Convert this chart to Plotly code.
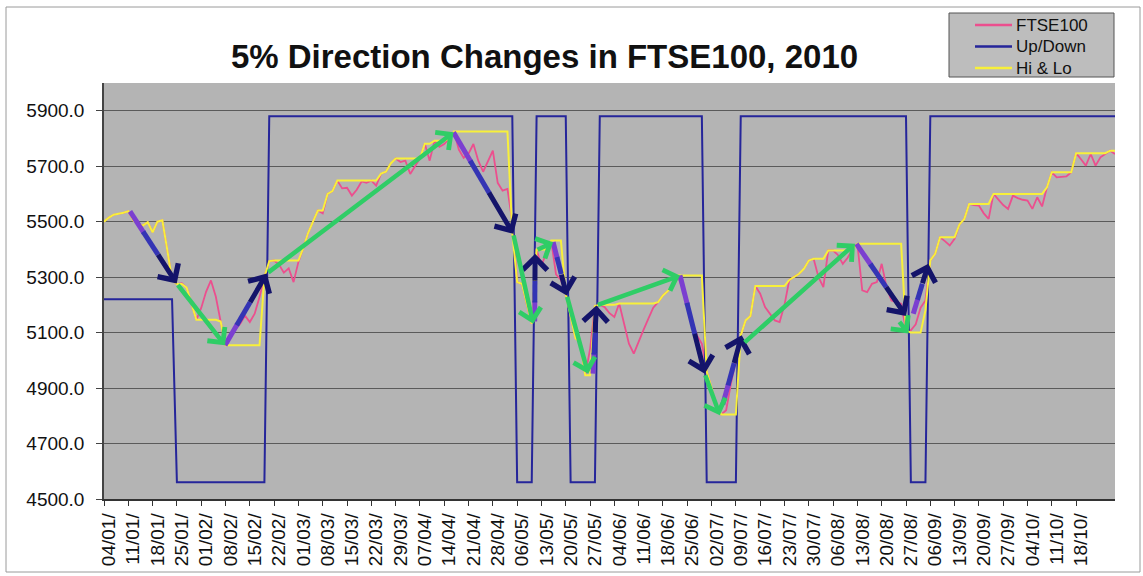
import plotly.graph_objects as go

# ---------------- data ----------------
tick_labels = ["04/01/", "11/01/", "18/01/", "25/01/", "01/02/", "08/02/", "15/02/", "22/02/",
               "01/03/", "08/03/", "15/03/", "22/03/", "29/03/", "07/04/", "14/04/", "21/04/",
               "28/04/", "06/05/", "13/05/", "20/05/", "27/05/", "04/06/", "11/06/", "18/06/",
               "25/06/", "02/07/", "09/07/", "16/07/", "23/07/", "30/07/", "06/08/", "13/08/",
               "20/08/", "27/08/", "06/09/", "13/09/", "20/09/", "27/09/", "04/10/", "11/10/",
               "18/10/"]

ftse100 = [
    5500, 5515, 5525, 5528, 5532, 5538, 5505, 5492, 5486, 5498, 5462, 5500, 5505, 5400, 5290,
    5275, 5278, 5262, 5200, 5146, 5189, 5247, 5288, 5230, 5140, 5054, 5092, 5112, 5131, 5161,
    5138, 5168, 5228, 5300, 5358,
    5360, 5345, 5316, 5332, 5282, 5355, 5405, 5460, 5500, 5540, 5530, 5600, 5610, 5648, 5620,
    5622, 5594, 5615, 5645, 5640, 5648, 5630, 5673, 5680, 5710, 5728, 5715, 5720, 5672, 5700,
    5728, 5781, 5720, 5792, 5770, 5780, 5799, 5825,
    5760, 5730, 5745, 5780, 5720, 5680, 5720, 5756, 5640, 5612, 5618, 5500,
    5282, 5276, 5200, 5132, 5400, 5340, 5390, 5432, 5310, 5290, 5240, 5158, 5080, 5063, 4946,
    5040, 5196,
    5200, 5192, 5170, 5156, 5205, 5130, 5060, 5024, 5070, 5110, 5150, 5190, 5210, 5234, 5250,
    5270, 5306, 5260, 5200, 5140, 5090, 5060,
    4960, 4900, 4830, 4805, 4820, 4918, 5000, 5090, 5144, 5160,
    5268, 5240, 5192, 5170, 5144, 5138, 5200, 5290, 5300, 5312, 5330, 5360, 5366, 5300, 5264,
    5396, 5396, 5380, 5348, 5370, 5400, 5420, 5252, 5246, 5276, 5282, 5348, 5264, 5216, 5210,
    5204, 5110,
    5108, 5130, 5190, 5216, 5360, 5384, 5444, 5430, 5414, 5438, 5490, 5510, 5564, 5560, 5558,
    5530, 5510, 5600, 5580, 5560, 5546, 5594, 5585, 5579, 5576, 5546, 5588, 5555, 5624, 5678,
    5660, 5662, 5663, 5678, 5747, 5725, 5702, 5744, 5702, 5732, 5745, 5756, 5744,
]

up_down = [
    5220, 5220, 5220, 5220, 5220, 5220, 5220, 5220, 5220, 5220, 5220, 5220, 5220, 5220, 5220,
    4560, 4560, 4560, 4560, 4560, 4560, 4560, 4560, 4560, 4560, 4560, 4560, 4560, 4560, 4560,
    4560, 4560, 4560, 4560,
    5880, 5880, 5880, 5880, 5880, 5880, 5880, 5880, 5880, 5880, 5880, 5880, 5880, 5880, 5880,
    5880, 5880, 5880, 5880, 5880, 5880, 5880, 5880, 5880, 5880, 5880, 5880, 5880, 5880, 5880,
    5880, 5880, 5880, 5880, 5880, 5880, 5880, 5880, 5880, 5880, 5880, 5880, 5880, 5880, 5880,
    5880, 5880, 5880, 5880, 5880, 5880,
    4560, 4560, 4560, 4560,
    5880, 5880, 5880, 5880, 5880, 5880, 5880,
    4560, 4560, 4560, 4560, 4560, 4560,
    5880, 5880, 5880, 5880, 5880, 5880, 5880, 5880, 5880, 5880, 5880, 5880, 5880, 5880, 5880,
    5880, 5880, 5880, 5880, 5880, 5880, 5880,
    4560, 4560, 4560, 4560, 4560, 4560, 4560,
    5880, 5880, 5880, 5880, 5880, 5880, 5880, 5880, 5880, 5880, 5880, 5880, 5880, 5880, 5880,
    5880, 5880, 5880, 5880, 5880, 5880, 5880, 5880, 5880, 5880, 5880, 5880, 5880, 5880, 5880,
    5880, 5880, 5880, 5880, 5880,
    4560, 4560, 4560, 4560,
    5880, 5880, 5880, 5880, 5880, 5880, 5880, 5880, 5880, 5880, 5880, 5880, 5880, 5880, 5880,
    5880, 5880, 5880, 5880, 5880, 5880, 5880, 5880, 5880, 5880, 5880, 5880, 5880, 5880, 5880,
    5880, 5880, 5880, 5880, 5880, 5880, 5880, 5880, 5880,
]

hi_lo = [
    5500, 5515, 5525, 5528, 5532, 5538, 5505, 5492, 5486, 5498, 5462, 5500, 5505, 5400, 5290,
    5275, 5275, 5262, 5200, 5146, 5146, 5146, 5146, 5146, 5140, 5054, 5054, 5054, 5054, 5054,
    5054, 5054, 5054, 5300, 5358,
    5360, 5360, 5360, 5360, 5360, 5360, 5405, 5460, 5500, 5540, 5540, 5600, 5610, 5648, 5648,
    5648, 5648, 5648, 5648, 5648, 5648, 5648, 5673, 5680, 5710, 5728, 5728, 5728, 5728, 5728,
    5728, 5781, 5781, 5792, 5792, 5792, 5799, 5825,
    5825, 5825, 5825, 5825, 5825, 5825, 5825, 5825, 5825, 5825, 5825, 5460,
    5282, 5276, 5200, 5132, 5400, 5400, 5400, 5432, 5432, 5432, 5240, 5158, 5080, 5063, 4946,
    4946, 5196,
    5200, 5200, 5200, 5200, 5205, 5205, 5205, 5205, 5205, 5205, 5205, 5205, 5210, 5234, 5250,
    5270, 5306, 5306, 5306, 5306, 5306, 5306,
    4960, 4900, 4830, 4805, 4805, 4805, 4805, 5090, 5144, 5160,
    5268, 5268, 5268, 5268, 5268, 5268, 5268, 5290, 5300, 5312, 5330, 5360, 5366, 5366, 5366,
    5396, 5396, 5396, 5396, 5396, 5400, 5420, 5420, 5420, 5420, 5420, 5420, 5420, 5420, 5420,
    5420, 5108,
    5100, 5100, 5100, 5180, 5360, 5384, 5444, 5444, 5444, 5444, 5490, 5510, 5564, 5564, 5564,
    5564, 5564, 5600, 5600, 5600, 5600, 5600, 5600, 5600, 5600, 5600, 5600, 5600, 5624, 5678,
    5678, 5678, 5678, 5678, 5747, 5747, 5747, 5747, 5747, 5747, 5747, 5756, 5756,
]

series_names = ["FTSE100", "Up/Down", "Hi & Lo"]
series_colors = ["#ec4f8e", "#25259a", "#f8f03a"]

y_ticks = [4500, 4700, 4900, 5100, 5300, 5500, 5700, 5900]

# hand-drawn arrows (day index, index level)
navy_from_x = [5.35, 24.9, 71.9, 88.6, 92.4, 100.6, 118.5, 127.3, 154.8, 166.5]
navy_from_y = [5537, 5054, 5822, 5140, 5426, 4952, 5306, 4840, 5420, 5168]
navy_to_x = [14.96, 33.5, 84.2, 88.7, 95.2, 101.3, 123.6, 131.2, 165.0, 169.6]
navy_to_y = [5277, 5313, 5456, 5384, 5234, 5198, 4952, 5090, 5160, 5348]

green_from_x = [14.96, 33.5, 84.2, 88.9, 95.2, 101.3, 123.6, 131.5, 163.4]
green_from_y = [5277, 5313, 5456, 5396, 5234, 5198, 4952, 5060, 5144]
green_to_x = [24.9, 71.9, 88.3, 92.4, 99.6, 118.5, 126.7, 154.5, 165.5]
green_to_y = [5054, 5822, 5132, 5426, 4952, 5306, 4802, 5420, 5097]

# ---------------- figure ----------------
FONT = "Liberation Sans, Arial, sans-serif"
n = len(ftse100)
xs = list(range(n))

fig = go.Figure()
widths = [1.8, 2, 2]
for name, vals, col, w in zip(series_names, [ftse100, up_down, hi_lo], series_colors, widths):
    fig.add_trace(go.Scatter(x=xs, y=vals, mode="lines", name=name,
                             line=dict(color=col, width=w), showlegend=False))

shapes = []
annotations = []


def lerp(a, b, t):
    return a + (b - a) * t


# navy arrows with purple -> blue -> navy shading
for fx, fy, tx, ty in zip(navy_from_x, navy_from_y, navy_to_x, navy_to_y):
    pts = [0.0, 0.28, 0.58]
    cols = ["#7b3fd0", "#3434b4"]
    for k in range(2):
        shapes.append(dict(type="line", xref="x", yref="y", layer="above",
                           x0=lerp(fx, tx, pts[k]), y0=lerp(fy, ty, pts[k]),
                           x1=lerp(fx, tx, pts[k + 1] + 0.02), y1=lerp(fy, ty, pts[k + 1] + 0.02),
                           line=dict(color=cols[k], width=5)))
    annotations.append(dict(x=tx, y=ty, xref="x", yref="y",
                            ax=lerp(fx, tx, pts[2]), ay=lerp(fy, ty, pts[2]),
                            axref="x", ayref="y", text="", showarrow=True,
                            arrowhead=4, arrowsize=0.95, arrowwidth=5,
                            arrowcolor="#14146a", standoff=0))

for fx, fy, tx, ty in zip(green_from_x, green_from_y, green_to_x, green_to_y):
    annotations.append(dict(x=tx, y=ty, xref="x", yref="y", ax=fx, ay=fy,
                            axref="x", ayref="y", text="", showarrow=True,
                            arrowhead=4, arrowsize=0.95, arrowwidth=4.5,
                            arrowcolor="#2fcd66", standoff=0))

# plot geometry helpers (pixels -> paper)
L, R, T, B = 104, 1115, 83, 499


def px(xp):
    return (xp - L) / (R - L)


def py(yp):
    return (B - yp) / (B - T)


# outer chart border
shapes.append(dict(type="rect", xref="paper", yref="paper", layer="below",
                   x0=px(6), x1=px(1140), y0=py(572), y1=py(7),
                   line=dict(color="#9a9a9a", width=1), fillcolor="rgba(0,0,0,0)"))
# legend box
shapes.append(dict(type="rect", xref="paper", yref="paper", layer="below",
                   x0=px(949), x1=px(1114), y0=py(77), y1=py(13),
                   line=dict(color="#555555", width=1), fillcolor="#bdbdbd"))
# legend entries
legend_rows = [25, 46.5, 68]
for name, col, yr in zip(series_names, series_colors, legend_rows):
    shapes.append(dict(type="line", xref="paper", yref="paper", layer="above",
                       x0=px(975), x1=px(1012), y0=py(yr), y1=py(yr),
                       line=dict(color=col, width=2.5)))
    annotations.append(dict(x=px(1014), y=py(yr), xref="paper", yref="paper",
                            text=name, showarrow=False, xanchor="left", yanchor="middle",
                            font=dict(family=FONT, size=17, color="#111111")))

fig.update_layout(
    width=1143, height=576,
    margin=dict(l=L, r=1143 - R, t=T, b=576 - B, autoexpand=False),
    paper_bgcolor="white", plot_bgcolor="#b4b4b4",
    font=dict(family=FONT, color="#111111"),
    title=dict(text="5% Direction Changes in FTSE100, 2010",
               x=544.5 / 1143, xanchor="center", y=1 - 56 / 576, yanchor="middle",
               xref="container", yref="container",
               font=dict(family=FONT, size=33, color="#111111", weight="bold")),
    showlegend=False,
    shapes=shapes,
    annotations=annotations,
)

fig.update_xaxes(range=[0, n - 1],
                 tickvals=[5 * i for i in range(len(tick_labels))], ticktext=tick_labels,
                 tickangle=-90, ticks="outside", ticklen=5, tickcolor="#333333",
                 showline=True, linecolor="#333333", linewidth=1.5,
                 showgrid=False, zeroline=False,
                 tickfont=dict(family=FONT, size=19, color="#111111"),
                 ticklabelshift=5)
fig.update_yaxes(range=[4500, 6000],
                 tickvals=y_ticks, ticktext=["%.1f" % v for v in y_ticks],
                 ticks="outside", ticklen=6, tickcolor="#444444",
                 showline=True, linecolor="#444444", linewidth=1.5,
                 showgrid=True, gridcolor="#5a5a5a", gridwidth=1.3, zeroline=False,
                 tickfont=dict(family=FONT, size=19, color="#111111"),
                 ticklabelstandoff=8)

fig.write_html("out.html", config={"displayModeBar": False},
               post_script="document.body.style.margin='0px';")
